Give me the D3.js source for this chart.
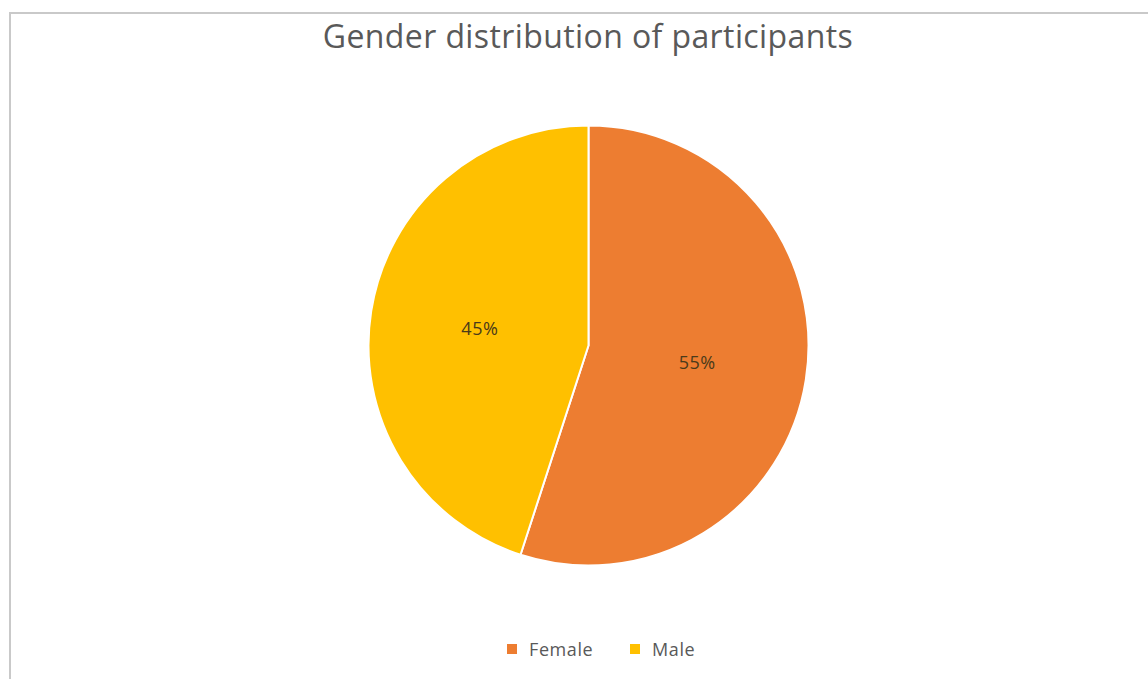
<!DOCTYPE html>
<html>
<head>
<meta charset="utf-8">
<script src="https://cdn.jsdelivr.net/npm/d3@7"></script>
<style>
  html, body { margin: 0; padding: 0; background: #fff; }
  svg { display: block; }
</style>
</head>
<body>
<svg id="chart" width="1148" height="679"></svg>
<script>
// Participants by gender (percent)
const categories = ["Female", "Male"];
const shares = [55, 45];
const colors = ["#ED7D31", "#FFC000"];
const chartTitle = "Gender distribution of participants";

const W = 1148, H = 679;
const svg = d3.select("#chart");

// chart area frame (open on the right and bottom)
svg.append("rect")
  .attr("x", 10).attr("y", 13)
  .attr("width", W + 20).attr("height", H + 20)
  .attr("fill", "#fff")
  .attr("stroke", "#c9c9c9")
  .attr("stroke-width", 2);

svg.append("text")
  .attr("x", 588).attr("y", 48)
  .attr("text-anchor", "middle")
  .attr("font-family", "'Open Sans', sans-serif")
  .attr("font-size", 32)
  .attr("letter-spacing", 0.4)
  .attr("fill", "#595959")
  .text(chartTitle);

const cx = 588.5, cy = 345.5, R = 220;
const data = categories.map((c, i) => ({ name: c, value: shares[i], color: colors[i] }));

const pie = d3.pie().value(d => d.value).sort(null);
const arc = d3.arc().innerRadius(0).outerRadius(R);
const arcs = pie(data);

const g = svg.append("g").attr("transform", `translate(${cx},${cy})`);

g.selectAll("path.slice")
  .data(arcs)
  .join("path")
  .attr("class", "slice")
  .attr("d", arc)
  .attr("fill", d => d.data.color)
  .attr("stroke", "#fff")
  .attr("stroke-width", 2)
  .attr("stroke-linejoin", "round");

const total = d3.sum(shares);
g.selectAll("text.pct")
  .data(arcs)
  .join("text")
  .attr("class", "pct")
  .attr("transform", d => `translate(${arc.centroid(d)})`)
  .attr("text-anchor", "middle")
  .attr("dy", "0.35em")
  .attr("font-family", "'Open Sans', sans-serif")
  .attr("font-size", 18)
  .attr("letter-spacing", 0.5)
  .attr("fill", "#4a3a1a")
  .text(d => Math.round(d.data.value / total * 100) + "%");

// legend centred under the pie
const legend = svg.append("g").attr("transform", "translate(0,649)");
const itemX = [507, 630];
const items = legend.selectAll("g.item")
  .data(data)
  .join("g")
  .attr("class", "item")
  .attr("transform", (d, i) => `translate(${itemX[i]},0)`);

items.append("rect")
  .attr("x", 0).attr("y", -5)
  .attr("width", 10).attr("height", 10)
  .attr("fill", d => d.color);

items.append("text")
  .attr("x", 22).attr("y", 0)
  .attr("dy", "0.37em")
  .attr("font-family", "'Open Sans', sans-serif")
  .attr("font-size", 18)
  .attr("letter-spacing", 0.6)
  .attr("fill", "#595959")
  .text(d => d.name);
</script>
</body>
</html>
